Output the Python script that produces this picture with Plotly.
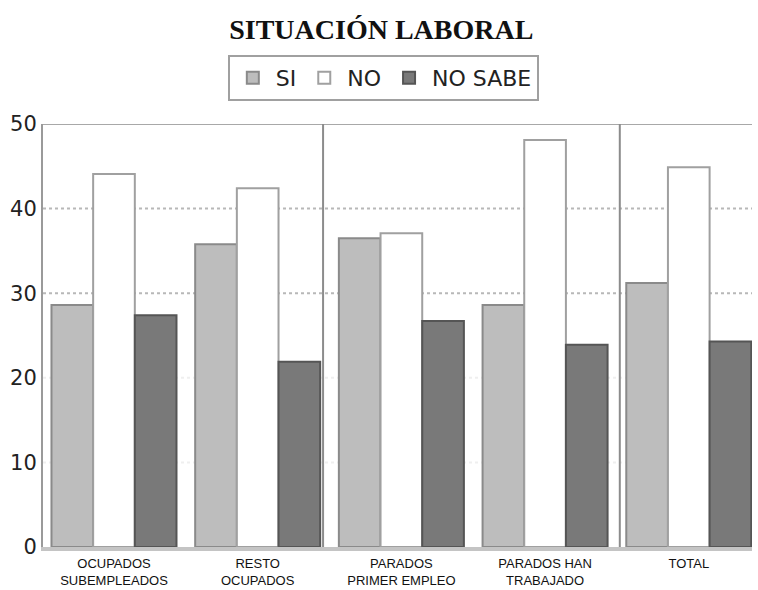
import plotly.graph_objects as go

categories = ["OCUPADOS<br>SUBEMPLEADOS", "RESTO<br>OCUPADOS", "PARADOS<br>PRIMER EMPLEO",
              "PARADOS HAN<br>TRABAJADO", "TOTAL"]
si = [28.6, 35.8, 36.5, 28.6, 31.2]
no = [44.1, 42.4, 37.1, 48.1, 44.9]
no_sabe = [27.4, 21.9, 26.7, 23.9, 24.3]

x_idx = list(range(len(categories)))

fig = go.Figure()
fig.add_trace(go.Bar(x=x_idx, y=si, name="SI",
                     marker=dict(color="#bdbdbd", line=dict(color="#8a8a8a", width=2))))
fig.add_trace(go.Bar(x=x_idx, y=no, name="NO",
                     marker=dict(color="#ffffff", line=dict(color="#a0a0a0", width=2))))
fig.add_trace(go.Bar(x=x_idx, y=no_sabe, name="NO SABE",
                     marker=dict(color="#797979", line=dict(color="#555555", width=2))))

shapes = []
# dotted gridlines
for gy in [30, 40]:
    shapes.append(dict(type="line", xref="paper", yref="y", x0=0, x1=1, y0=gy, y1=gy,
                       line=dict(color="#b8b8b8", width=2, dash="dot"), layer="below"))
for gy in [10, 20]:
    shapes.append(dict(type="line", xref="paper", yref="y", x0=0, x1=1, y0=gy, y1=gy,
                       line=dict(color="#efefef", width=2, dash="dot"), layer="below"))
# top border
shapes.append(dict(type="line", xref="paper", yref="y", x0=0, x1=1, y0=50, y1=50,
                   line=dict(color="#a8a8a8", width=2)))
# group separators
for sx in [1.455, 3.52]:
    shapes.append(dict(type="line", xref="x", yref="y", x0=sx, x1=sx, y0=-0.9, y1=50,
                       line=dict(color="#8c8c8c", width=2)))

fig.update_layout(
    width=758, height=590,
    margin=dict(l=43, r=6, t=124, b=43),
    paper_bgcolor="white", plot_bgcolor="white",
    barmode="group", bargap=0.13, bargroupgap=0,
    title=dict(text="<b>SITUACIÓN LABORAL</b>", x=0.503, xanchor="center",
               y=1 - 29 / 590, yanchor="middle", yref="container",
               font=dict(family="Liberation Serif, Times New Roman, serif", size=28, color="#111")),
    legend=dict(orientation="h", x=0.48, xanchor="center", y=1 + 69 / 423, yanchor="top",
                bordercolor="#a0a0a0", borderwidth=2, bgcolor="white",
                font=dict(family="DejaVu Sans, sans-serif", size=22, color="#222"),
                itemwidth=36, tracegroupgap=0),
    xaxis=dict(tickmode="array", tickvals=x_idx, ticktext=categories,
               range=[-0.494, 4.44], showgrid=False, zeroline=False,
               showline=True, linecolor="#c4c4c4", linewidth=4,
               tickfont=dict(family="Liberation Sans, Arial, sans-serif",
                             size=13, color="#111"),
               ticks="", ticklabelstandoff=1, automargin=False),
    yaxis=dict(range=[0, 50], tickvals=[0, 10, 20, 30, 40, 50], showgrid=False,
               zeroline=False, showline=True, linecolor="#9a9a9a", linewidth=2,
               tickfont=dict(family="DejaVu Sans, sans-serif", size=21, color="#222"),
               ticks="", automargin=False),
    shapes=shapes,
    showlegend=True,
)

fig.write_html("out.html", post_script="document.body.style.margin='0';",
               config={"displayModeBar": False})
